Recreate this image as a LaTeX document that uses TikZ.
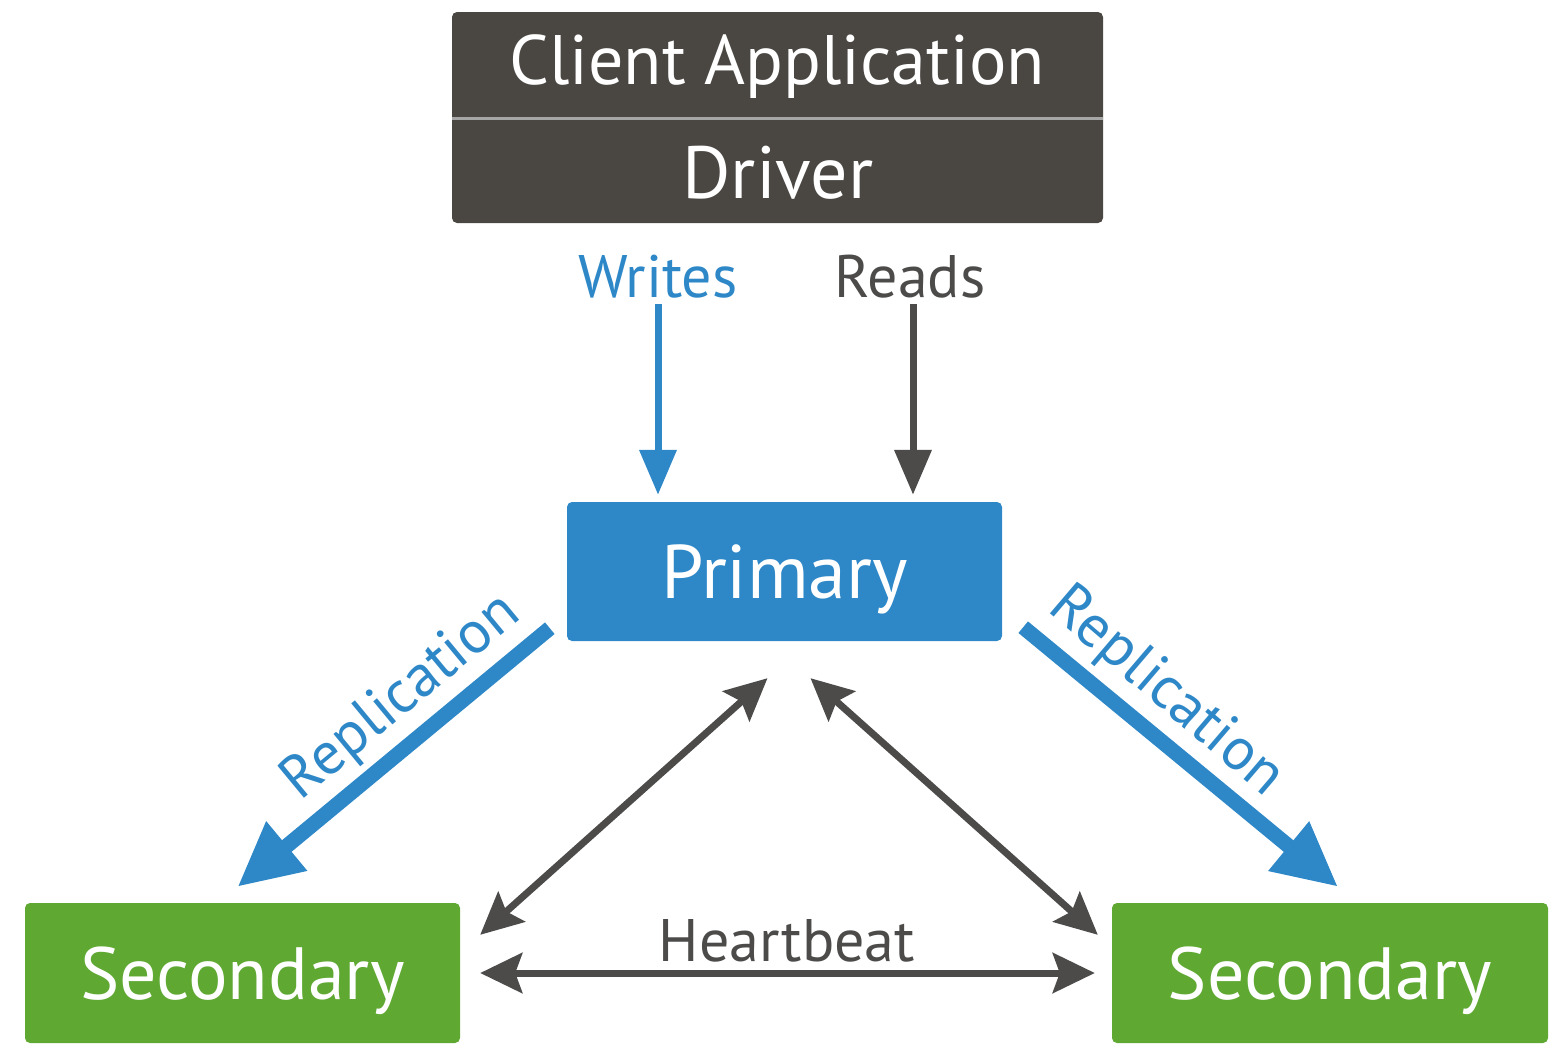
\documentclass[tikz,border=0pt]{standalone}
\usepackage{fontspec}
\setmainfont{PT Sans}
\usetikzlibrary{arrows.meta}
\definecolor{drvgray}{HTML}{4A4743}
\definecolor{arrgray}{HTML}{4C4B4A}
\definecolor{repblue}{HTML}{2E88C8}
\definecolor{secgreen}{HTML}{5FA832}
\tikzset{box/.style={rounded corners=5pt, inner sep=0pt, text=white, text depth=0pt},
  lbl/.style={inner sep=0pt, text depth=0pt, font=\fontsize{60}{66}\selectfont},
  wrarr/.style={repblue, line width=7pt, -{Triangle[length=45pt,width=36pt]}},
  rdarr/.style={arrgray, line width=7pt, -{Triangle[length=45pt,width=36pt]}},
  reparr/.style={repblue, line width=15pt, -{Triangle[length=64pt,width=60pt]}},
  hbarr/.style={arrgray, line width=7pt,
    {Stealth[length=42pt,width=40pt,inset=7pt]}-{Stealth[length=42pt,width=40pt,inset=7pt]}}}

\begin{document}
\begin{tikzpicture}[x=1pt, y=-1pt]
  \useasboundingbox (0,0) rectangle (1563,1055);
  % client + driver
  \node[box, fill=drvgray, minimum width=651pt, minimum height=211pt] (client) at (777.5,117.5) {};
  \draw[gray!70, line width=3pt] (client.west |- 0,118) -- (client.east |- 0,118);
  \node[box, font=\fontsize{70}{76}\selectfont] (app) at (777,60) {Client Application};
  \node[box, font=\fontsize{74}{80}\selectfont] (driver) at (778,172) {Driver};
  % replica set
  \node[box, fill=repblue, minimum width=435pt, minimum height=139pt,
    font=\fontsize{76}{82}\selectfont] (primary) at (784.5,571.5) {Primary};
  \node[box, fill=secgreen, minimum width=435pt, minimum height=140pt,
    font=\fontsize{74}{80}\selectfont] (secL) at (242.5,973) {Secondary};
  \node[box, fill=secgreen, minimum width=436pt, minimum height=140pt,
    font=\fontsize{74}{80}\selectfont] (secR) at (1330,973) {Secondary};
  % labels
  \node[lbl, text=repblue] (writes) at (658,276) {Writes};
  \node[lbl, text=arrgray] (reads) at (910,276) {Reads};
  \node[lbl, text=repblue, rotate=39.6] (replL) at (398,693) {Replication};
  \node[lbl, text=repblue, rotate=-40.5] (replR) at (1170,688) {Replication};
  \node[lbl, text=arrgray] (heartbeat) at (787,940) {Heartbeat};
  % arrows
  \draw[wrarr] ([yshift=-7pt]writes.south) -- (writes.south |- primary.north) [shorten >=7pt];
  \draw[rdarr] ([shift={(3,7)}]reads.south) -- ([xshift=3pt]reads.south |- primary.north) [shorten >=7pt];
  \draw[reparr] ([shift={(-17,-13)}]primary.south west) -- ([shift={(-5,-16)}]secL.north);
  \draw[reparr] ([shift={(21,-14)}]primary.south east) -- ([shift={(8,-16)}]secR.north);
  \draw[hbarr] ([shift={(-17,37)}]primary.south) -- ([shift={(20,32)}]secL.north east);
  \draw[hbarr] ([shift={(26,37)}]primary.south) -- ([shift={(-14,32)}]secR.north west);
  \draw[hbarr, shorten <=20pt, shorten >=17pt] (secL.east) -- (secR.west);
\end{tikzpicture}
\end{document}
